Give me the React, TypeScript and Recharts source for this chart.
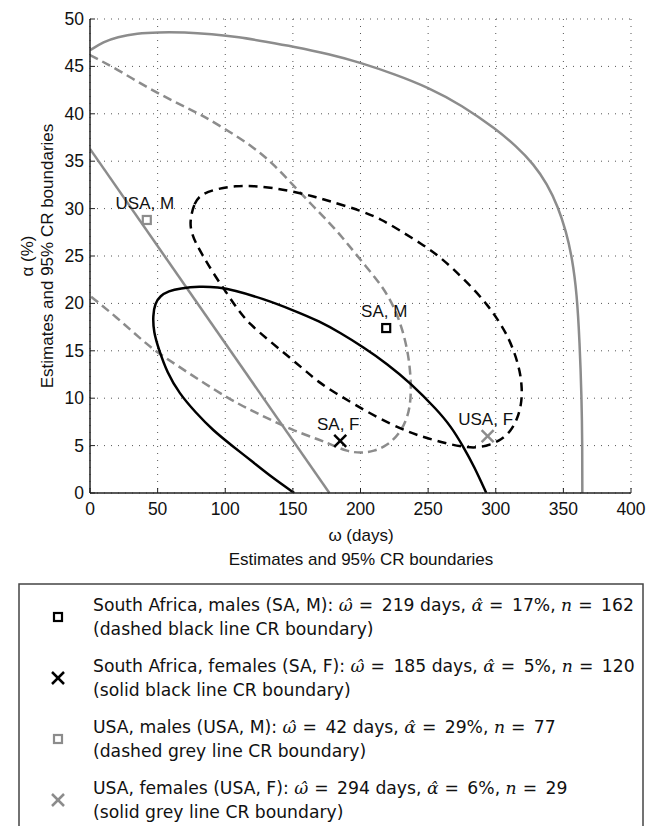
import React from "react";
import {
  ComposedChart,
  Line,
  Scatter,
  XAxis,
  YAxis,
  CartesianGrid,
} from "recharts";

// CR boundary curves (omega days, alpha %)
const saMaleBoundary = [
  { x: 74, y: 28.8 }, { x: 77, y: 30.6 }, { x: 82, y: 31.5 }, { x: 94, y: 32.1 },
  { x: 108, y: 32.4 }, { x: 121, y: 32.4 }, { x: 135, y: 32.2 }, { x: 150, y: 31.8 },
  { x: 165, y: 31.3 }, { x: 177, y: 30.8 }, { x: 200, y: 29.8 }, { x: 215, y: 28.9 },
  { x: 229, y: 27.7 }, { x: 245, y: 26.3 }, { x: 259, y: 24.9 }, { x: 274, y: 22.9 },
  { x: 285, y: 21.3 }, { x: 294, y: 19.8 }, { x: 301, y: 18.4 }, { x: 308, y: 16.8 },
  { x: 314, y: 14.8 }, { x: 318, y: 12.8 }, { x: 319.5, y: 11 }, { x: 319, y: 9.4 },
  { x: 316, y: 7.8 }, { x: 311, y: 6.5 }, { x: 304, y: 5.6 }, { x: 296, y: 5.1 },
  { x: 288, y: 4.8 }, { x: 279, y: 4.8 }, { x: 267, y: 5.1 }, { x: 254, y: 5.6 },
  { x: 242, y: 6.1 }, { x: 231, y: 6.7 }, { x: 212, y: 8 }, { x: 195, y: 9.4 },
  { x: 182, y: 10.5 }, { x: 170, y: 11.6 }, { x: 160, y: 12.8 }, { x: 150, y: 14 },
  { x: 134, y: 15.9 }, { x: 118, y: 17.8 }, { x: 109, y: 19.4 }, { x: 101, y: 21.1 },
  { x: 92, y: 23 }, { x: 84, y: 24.9 }, { x: 78, y: 26.4 }, { x: 74.5, y: 27.7 },
];

const saFemaleBoundary = [
  { x: 151, y: 0 }, { x: 135, y: 1.6 }, { x: 121, y: 3.2 }, { x: 105, y: 5 },
  { x: 91, y: 6.6 }, { x: 78, y: 8.5 }, { x: 66, y: 10.5 }, { x: 57, y: 12.7 },
  { x: 51, y: 15.1 }, { x: 47, y: 17 }, { x: 46.5, y: 18.7 }, { x: 48, y: 20 },
  { x: 52, y: 20.8 }, { x: 58, y: 21.3 }, { x: 66.5, y: 21.6 }, { x: 81, y: 21.8 },
  { x: 95, y: 21.7 }, { x: 106, y: 21.4 }, { x: 128, y: 20.5 }, { x: 150, y: 19.3 },
  { x: 170, y: 18.1 }, { x: 185, y: 16.9 }, { x: 202, y: 15.4 }, { x: 220, y: 13.6 },
  { x: 237, y: 11.6 }, { x: 256.5, y: 8.8 }, { x: 267, y: 7 }, { x: 276, y: 4.9 },
  { x: 284, y: 2.8 }, { x: 293, y: 0 },
];

const usaMaleBoundary = [
  { x: 0, y: 46.2 }, { x: 20, y: 44.7 }, { x: 42, y: 42.8 }, { x: 62, y: 41.3 },
  { x: 81, y: 40 }, { x: 100, y: 38.4 }, { x: 121, y: 36.5 }, { x: 137, y: 34.5 },
  { x: 150, y: 32.5 }, { x: 164, y: 30.4 }, { x: 177, y: 28.5 }, { x: 187, y: 26.9 },
  { x: 196, y: 25.3 }, { x: 207, y: 23.4 }, { x: 217, y: 21.6 }, { x: 225, y: 19.6 },
  { x: 231, y: 17.3 }, { x: 235.5, y: 14.6 }, { x: 237.5, y: 11.7 }, { x: 237, y: 9.5 },
  { x: 234.5, y: 7.8 }, { x: 228, y: 6.1 }, { x: 219.5, y: 5 }, { x: 210, y: 4.4 },
  { x: 200, y: 4.2 }, { x: 190, y: 4.4 }, { x: 180, y: 5 }, { x: 170, y: 5.6 },
  { x: 150, y: 6.6 }, { x: 131, y: 7.9 }, { x: 115, y: 9 }, { x: 101, y: 10.1 },
  { x: 82, y: 11.8 }, { x: 64, y: 13.5 }, { x: 50, y: 14.8 }, { x: 37, y: 16.3 },
  { x: 20, y: 18.5 }, { x: 0, y: 20.8 },
];

const usaFemaleOuter = [
  { x: 0, y: 46.7 }, { x: 10, y: 47.6 }, { x: 20, y: 48.1 }, { x: 35, y: 48.5 },
  { x: 50, y: 48.6 }, { x: 70, y: 48.6 }, { x: 90, y: 48.4 }, { x: 110, y: 48.1 },
  { x: 130, y: 47.6 }, { x: 150, y: 47.1 }, { x: 177, y: 46.3 }, { x: 200, y: 45.4 },
  { x: 225, y: 44.2 }, { x: 250, y: 42.8 }, { x: 275, y: 40.9 }, { x: 300, y: 38.4 },
  { x: 315, y: 36.6 }, { x: 328, y: 34.7 }, { x: 338, y: 32.6 }, { x: 346, y: 30.2 },
  { x: 352, y: 27.6 }, { x: 356.5, y: 24.8 }, { x: 360, y: 21 }, { x: 362, y: 16 },
  { x: 363.5, y: 10 }, { x: 364, y: 5 }, { x: 364, y: 0 },
];

const usaFemaleInner = [
  { x: 0, y: 36.3 }, { x: 177, y: 0 },
];

// point estimates
const saMaleEst = [{ x: 219, y: 17.4, label: "SA, M" }];
const saFemaleEst = [{ x: 185, y: 5.5, label: "SA, F" }];
const usaMaleEst = [{ x: 42, y: 28.8, label: "USA, M" }];
const usaFemaleEst = [{ x: 294, y: 6, label: "USA, F" }];

const xTicks = [0, 50, 100, 150, 200, 250, 300, 350, 400];
const yTicks = [0, 5, 10, 15, 20, 25, 30, 35, 40, 45, 50];

const legendRows = [
  { marker: "square", color: "#000", name: "South Africa, males (SA, M): ", w: "219", a: "17", n: "162", line: "(dashed black line CR boundary)" },
  { marker: "cross", color: "#000", name: "South Africa, females (SA, F): ", w: "185", a: "5", n: "120", line: "(solid black line CR boundary)" },
  { marker: "square", color: "#8c8c8c", name: "USA, males (USA, M): ", w: "42", a: "29", n: "77", line: "(dashed grey line CR boundary)" },
  { marker: "cross", color: "#8c8c8c", name: "USA, females (USA, F): ", w: "294", a: "6", n: "29", line: "(solid grey line CR boundary)" },
];

const GREY = "#8c8c8c";
const FONT = "'Liberation Sans', Arial, sans-serif";
const LFONT = "'DejaVu Sans', sans-serif";
const MFONT = "'DejaVu Serif', serif";

const XTick = (props: any) => {
  const { x, y, payload } = props;
  return (
    <g>
      <line x1={x} y1={y} x2={x} y2={y - 5} stroke="#222" strokeWidth={1} />
      <text x={x} y={y + 22} textAnchor="middle" fontSize={17.5} fontFamily={FONT} fill="#111">
        {payload.value}
      </text>
    </g>
  );
};

const YTick = (props: any) => {
  const { x, y, payload } = props;
  return (
    <g>
      <line x1={x} y1={y} x2={x + 5} y2={y} stroke="#222" strokeWidth={1} />
      <text x={x - 6} y={y + 6} textAnchor="end" fontSize={17.5} fontFamily={FONT} fill="#111">
        {payload.value}
      </text>
    </g>
  );
};

const Marker = ({ kind, color, cx, cy }: { kind: string; color: string; cx: number; cy: number }) => {
  if (kind === "square") {
    return <rect x={cx - 4} y={cy - 4} width={8} height={8} fill="none" stroke={color} strokeWidth={2.2} />;
  }
  return (
    <g stroke={color} strokeWidth={2.5}>
      <line x1={cx - 6} y1={cy - 6} x2={cx + 6} y2={cy + 6} />
      <line x1={cx - 6} y1={cy + 6} x2={cx + 6} y2={cy - 6} />
    </g>
  );
};

const estShape = (kind: string, color: string) => (props: any) => {
  const { cx, cy, payload } = props;
  return (
    <g>
      <Marker kind={kind} color={color} cx={cx} cy={cy} />
      <text x={cx - 2} y={cy - 11} textAnchor="middle" fontSize={17} fontFamily={FONT} fill="#111">
        {payload.label}
      </text>
    </g>
  );
};

const lineProps = {
  dataKey: "y",
  type: "basis" as const,
  dot: false,
  activeDot: false,
  isAnimationActive: false,
  strokeWidth: 2.5,
};

const Eq = ({ children }: { children: React.ReactNode }) => (
  <tspan dx={6}>{"= "}<tspan dx={3}>{children}</tspan></tspan>
);

export default function App() {
  return (
    <div style={{ position: "absolute", left: 0, top: 0, width: 653, height: 826, overflow: "hidden", background: "#fff" }}>
      <ComposedChart width={653} height={580} margin={{ top: 19, right: 22, left: 0, bottom: 0 }}>
        <CartesianGrid stroke="#555" strokeDasharray="1 6" strokeWidth={1} />
        <XAxis
          type="number"
          dataKey="x"
          domain={[0, 400]}
          ticks={xTicks}
          allowDataOverflow
          height={87}
          tickSize={0}
          tickMargin={0}
          tickLine={false}
          tick={<XTick />}
          axisLine={{ stroke: "#222", strokeWidth: 1.5 }}
          interval={0}
        />
        <YAxis
          type="number"
          dataKey="y"
          domain={[0, 50]}
          ticks={yTicks}
          allowDataOverflow
          width={90}
          tickSize={0}
          tickMargin={0}
          tickLine={false}
          tick={<YTick />}
          axisLine={{ stroke: "#222", strokeWidth: 1.5 }}
          interval={0}
        />
        <Line {...lineProps} data={usaFemaleOuter} stroke={GREY} />
        <Line {...lineProps} data={usaFemaleInner} type="linear" stroke={GREY} />
        <Line {...lineProps} data={usaMaleBoundary} stroke={GREY} strokeDasharray="9 5" />
        <Line {...lineProps} data={saFemaleBoundary} stroke="#000" />
        <Line {...lineProps} data={saMaleBoundary} type="basisClosed" stroke="#000" strokeDasharray="9 6" />
        <Scatter data={usaMaleEst} dataKey="y" isAnimationActive={false} shape={estShape("square", GREY)} />
        <Scatter data={usaFemaleEst} dataKey="y" isAnimationActive={false} shape={estShape("cross", GREY)} />
        <Scatter data={saMaleEst} dataKey="y" isAnimationActive={false} shape={estShape("square", "#000")} />
        <Scatter data={saFemaleEst} dataKey="y" isAnimationActive={false} shape={estShape("cross", "#000")} />
      </ComposedChart>

      <svg width={653} height={826} style={{ position: "absolute", left: 0, top: 0, pointerEvents: "none" }}>
        {/* axis titles */}
        <g fontFamily={FONT} fontSize={17} fill="#111">
          <text x={361} y={541} textAnchor="middle">ω (days)</text>
          <text x={361} y={565} textAnchor="middle">Estimates and 95% CR boundaries</text>
          <text transform="translate(33,256) rotate(-90)" textAnchor="middle">α (%)</text>
          <text transform="translate(53,256) rotate(-90)" textAnchor="middle">Estimates and 95% CR boundaries</text>
        </g>
        {/* legend box */}
        <rect x={19} y={584} width={624} height={300} fill="#fff" stroke="#444" strokeWidth={1.5} />
        {legendRows.map((r, i) => {
          const my = 617 + i * 61;
          return (
            <g key={i}>
              <Marker kind={r.marker} color={r.color} cx={58} cy={my} />
              <text x={93} y={my - 6} fontFamily={LFONT} fontSize={17.2} fill="#111">
                {r.name}
                <tspan fontFamily={MFONT} fontStyle="italic">{"ω\u0302"}</tspan>
                <Eq>{r.w + " days, "}</Eq>
                <tspan fontFamily={MFONT} fontStyle="italic">{"α\u0302"}</tspan>
                <Eq>{r.a + "%, "}</Eq>
                <tspan fontFamily={MFONT} fontStyle="italic">n</tspan>
                <Eq>{r.n}</Eq>
              </text>
              <text x={93} y={my + 18} fontFamily={LFONT} fontSize={17.2} fill="#111">
                {r.line}
              </text>
            </g>
          );
        })}
      </svg>
    </div>
  );
}
